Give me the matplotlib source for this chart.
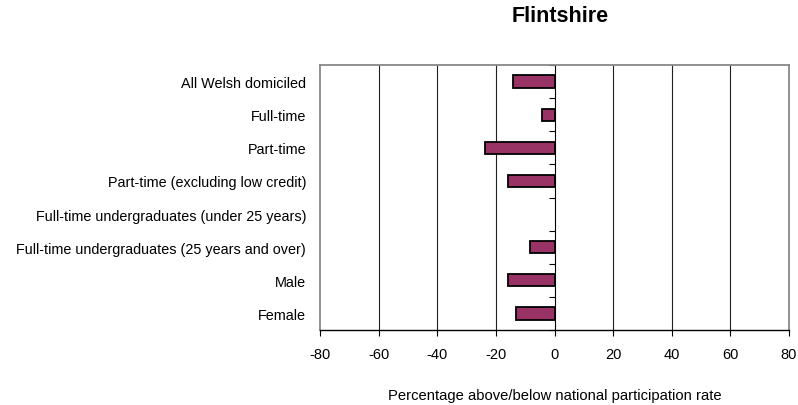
import matplotlib
matplotlib.use("Agg")
import matplotlib.pyplot as plt
import numpy as np

plt.rcParams['font.family'] = ['Liberation Sans', 'DejaVu Sans']

categories = [
    "All Welsh domiciled",
    "Full-time",
    "Part-time",
    "Part-time (excluding low credit)",
    "Full-time undergraduates (under 25 years)",
    "Full-time undergraduates (25 years and over)",
    "Male",
    "Female",
]
values = [-14, -4.1, -23.6, -15.9, 0, -8.3, -16, -13.1]
xticks = [-80, -60, -40, -20, 0, 20, 40, 60, 80]

fig = plt.figure(figsize=(7.98, 4.06), dpi=100)
ax = fig.add_axes([320 / 798, 1 - 331 / 406, (789 - 320) / 798, (331 - 66) / 406])

y = np.arange(len(categories))
edge_w = [1.3 if v != 0 else 0 for v in values]
ax.barh(y, values, height=0.37, color="#993366", edgecolor="black", linewidth=edge_w, zorder=3)

ax.set_xlim(-80, 80)
ax.set_ylim(len(categories) - 0.5, -0.5)
ax.set_xticks(xticks)
ax.set_xticklabels([str(t) for t in xticks], fontsize=10.5)
ax.set_yticks(y)
ax.set_yticklabels(categories, fontsize=10.4)
ax.tick_params(axis="y", length=0, pad=10)
ax.tick_params(axis="x", length=4, width=0.8, direction="out", pad=8)

for t in xticks[1:-1]:
    if t != 0:
        ax.axvline(t, color="#202020", linewidth=0.8, zorder=1)

for side in ["top", "right", "left"]:
    ax.spines[side].set_color("#888888")
    ax.spines[side].set_linewidth(1.3)
ax.spines["bottom"].set_color("black")
ax.spines["bottom"].set_linewidth(1.0)

# category axis crossing at zero with ticks between categories
sec = ax.secondary_yaxis(0.5)
sec.set_yticks(np.arange(len(categories) + 1) - 0.5)
sec.set_yticklabels([])
sec.tick_params(length=4, width=0.8, direction="in")
sec.spines["left"].set_color("black")
sec.spines["left"].set_linewidth(1.0)

ax.set_xlabel("Percentage above/below national participation rate", fontsize=10.6, labelpad=19.5)
fig.text(560 / 798, 1 - 17 / 406, "Flintshire", fontsize=15.5, fontweight="bold",
         ha="center", va="center")

fig.savefig("out.png", dpi=100)
